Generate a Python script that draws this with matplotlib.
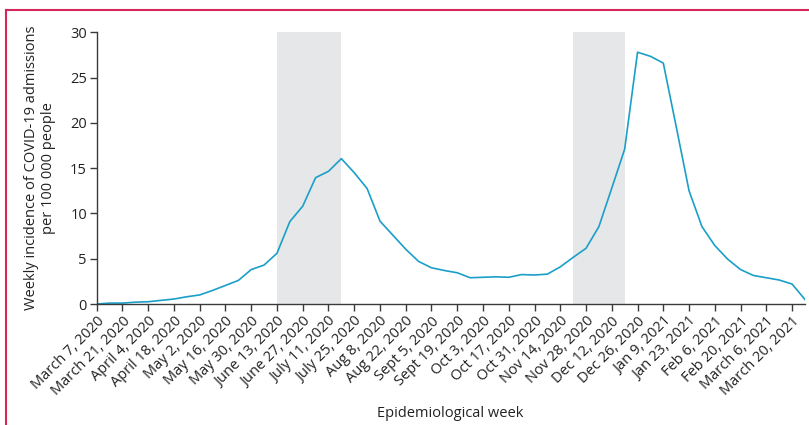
import numpy as np
import matplotlib.pyplot as plt
from matplotlib.lines import Line2D

plt.rcParams['font.family'] = ['Open Sans', 'DejaVu Sans']

# weekly incidence, week 0 = March 7, 2020 ... week 55 = March 27, 2021
incidence = [0.0, 0.1, 0.1, 0.2, 0.25, 0.4, 0.55, 0.8, 1.0, 1.5,
             2.05, 2.6, 3.8, 4.3, 5.6, 9.1, 10.8, 13.95, 14.65, 16.05,
             14.5, 12.75, 9.15, 7.6, 6.05, 4.7, 4.0, 3.7, 3.45, 2.9,
             2.95, 3.0, 2.95, 3.25, 3.2, 3.3, 4.1, 5.15, 6.15, 8.55,
             12.8, 17.1, 27.8, 27.35, 26.6, 19.6, 12.5, 8.55, 6.45, 4.95,
             3.8, 3.15, 2.9, 2.65, 2.2, 0.5]

tick_labels = ['March 7, 2020', 'March 21, 2020', 'April 4, 2020', 'April 18, 2020',
               'May 2, 2020', 'May 16, 2020', 'May 30, 2020', 'June 13, 2020',
               'June 27, 2020', 'July 11, 2020', 'July 25, 2020', 'Aug 8, 2020',
               'Aug 22, 2020', 'Sept 5, 2020', 'Sept 19, 2020', 'Oct 3, 2020',
               'Oct 17, 2020', 'Oct 31, 2020', 'Nov 14, 2020', 'Nov 28, 2020',
               'Dec 12, 2020', 'Dec 26, 2020', 'Jan 9, 2021', 'Jan 23, 2021',
               'Feb 6, 2021', 'Feb 20, 2021', 'March 6, 2021', 'March 20, 2021']

# shaded periods (in weeks)
shaded = [(14, 19), (37, 41)]

weeks = np.arange(len(incidence))

fig = plt.figure(figsize=(8.09, 4.25), dpi=100)
ax = fig.add_axes([0.1195, 0.2847, 0.8755, 0.6393])

for a, b in shaded:
    ax.axvspan(a, b, color='#e6e7e8', lw=0, zorder=0)

ax.plot(weeks, incidence, color='#1a9fc9', lw=1.2, zorder=2)

ax.set_xlim(0, 55)
ax.set_ylim(0, 30)
ax.set_yticks([0, 5, 10, 15, 20, 25, 30])
ax.set_xticks(np.arange(0, 55, 2))
ax.set_xticklabels(tick_labels, rotation=45, ha='right', va='top', rotation_mode='anchor')

for s in ['top', 'right']:
    ax.spines[s].set_visible(False)
for s in ['left', 'bottom']:
    ax.spines[s].set_color('#3a3a3a')
    ax.spines[s].set_linewidth(1.0)

ax.tick_params(axis='both', colors='#3a3a3a', labelcolor='#222222', length=5, width=1.0)
ax.tick_params(axis='x', labelsize=10.5, pad=2)
ax.tick_params(axis='y', labelsize=10.5, pad=2)

ax.set_ylabel('Weekly incidence of COVID-19 admissions\nper 100 000 people',
              fontsize=10.5, color='#222222', labelpad=10, linespacing=1.2)
fig.text(0.557, 0.028, 'Epidemiological week', ha='center', va='center',
         fontsize=10.5, color='#222222')

# frame lines of the original figure panel
frame_color = '#d4285a'
fig.add_artist(Line2D([0.0075, 1.0], [0.9765, 0.9765], color=frame_color, lw=1.5,
                      transform=fig.transFigure))
fig.add_artist(Line2D([0.0075, 0.0075], [0.0, 0.9765], color=frame_color, lw=1.5,
                      transform=fig.transFigure))

fig.savefig('out.png', dpi=100)
